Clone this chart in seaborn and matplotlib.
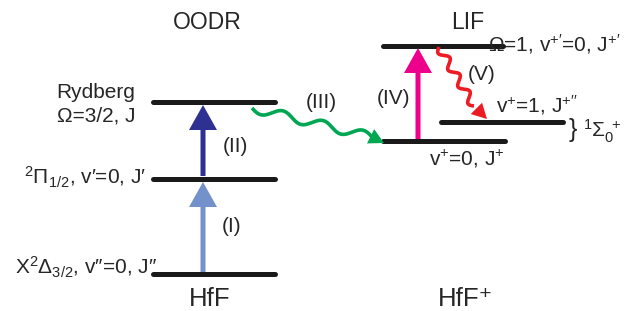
import numpy as np
import pandas as pd
import matplotlib
matplotlib.use("Agg")
import matplotlib.pyplot as plt
import seaborn as sns
from matplotlib.patches import Polygon

sns.set_theme(style="white")
plt.rcParams['font.family'] = ['Liberation Sans', 'DejaVu Sans']
plt.rcParams['mathtext.fontset'] = 'custom'
plt.rcParams['mathtext.rm'] = 'Liberation Sans'
plt.rcParams['mathtext.it'] = 'Liberation Sans'

# ---- data (diagram units: pixel-like positions of levels) ----
level_names = ["X", "Pi", "Rydberg", "v+0", "v+1", "Omega1"]
level_x0 = [153, 153, 153, 383, 441, 383]
level_x1 = [275, 275, 275, 505, 563, 503]
level_y = [274, 179, 102, 141, 122, 46]

level_labels = [
    r"X$^2\Delta_{3/2}$, v″=0, J″",
    r"$^2\Pi_{1/2}$, v′=0, J′",
    "Rydberg\nΩ=3/2, J",
    r"v$^{+}$=0, J$^{+}$",
    r"v$^{+}$=1, J$^{+\prime\prime}$",
    r"Ω=1, v$^{+\prime}$=0, J$^{+\prime}$",
]

step_labels = ["(I)", "(II)", "(III)", "(IV)", "(V)"]
section_titles = ["OODR", "LIF"]
molecule_names = ["HfF", "HfF⁺"]

fig = plt.figure(figsize=(6.35, 3.11), dpi=100)
ax = fig.add_axes([0, 0, 1, 1])

# levels via seaborn
df = pd.DataFrame({
    "x": level_x0 + level_x1,
    "y": level_y + level_y,
    "name": level_names + level_names,
})
sns.lineplot(data=df, x="x", y="y", units="name", estimator=None,
             color="#1a1a1a", lw=3.6, ax=ax, legend=False, sort=False)
ax.set_xlim(0, 635)
ax.set_ylim(311, 0)
ax.set_xlabel("")
ax.set_ylabel("")
ax.axis("off")

lv = dict(zip(level_names, level_y))

# vertical straight arrows
def varrow(x, y0, y1, color):
    ax.arrow(x, y0, 0, y1 - y0, width=5, head_width=28, head_length=25,
             length_includes_head=True, color=color, lw=0, zorder=3)

varrow(203, lv["X"] - 2, lv["Pi"] + 3, "#7391cb")
varrow(203, lv["Pi"] - 3, lv["Rydberg"] + 3, "#2e3192")
varrow(418, lv["v+0"] - 2, lv["Omega1"] + 2, "#ec008c")

# wavy arrows
def wavy(p0, p1, tip, n, amp, color, lw, hw, hl):
    p0 = np.array(p0, float); p1 = np.array(p1, float); tip = np.array(tip, float)
    t = np.linspace(0, 1, 400)
    d = p1 - p0
    L = np.hypot(*d)
    u = d / L
    nrm = np.array([-u[1], u[0]])
    pts = p0[None, :] + t[:, None] * d[None, :] + (amp * np.sin(2 * np.pi * n * t))[:, None] * nrm[None, :]
    ax.plot(pts[:, 0], pts[:, 1], color=color, lw=lw, solid_capstyle="butt", zorder=3)
    dv = tip - p1
    du = dv / np.hypot(*dv)
    dn = np.array([-du[1], du[0]])
    base = tip - du * hl
    tri = np.array([tip, base + dn * hw / 2, base - dn * hw / 2])
    ax.add_patch(Polygon(tri, closed=True, color=color, lw=0, zorder=3))

wavy((252, 108), (372, 137), (384, 143), 3.0, 4.5, "#00a651", 2.6, 16, 15)
wavy((439, 47), (474, 106), (487, 119), 3.5, 4.0, "#ed1c24", 2.6, 16, 15)

# level labels
fs = 15
ax.text(96, 98, "Rydberg", ha="center", va="baseline", fontsize=fs)
ax.text(96, 122, "Ω=3/2, J", ha="center", va="baseline", fontsize=fs)
ax.text(146, 185, level_labels[1], ha="right", va="baseline", fontsize=fs)
ax.text(157, 275, level_labels[0], ha="right", va="baseline", fontsize=fs)
ax.text(429, 166, level_labels[3], ha="left", va="baseline", fontsize=fs)
ax.text(496, 112, level_labels[4], ha="left", va="baseline", fontsize=fs)
ax.text(488, 51, level_labels[5], ha="left", va="baseline", fontsize=fs)
ax.text(569, 137, "}", ha="left", va="baseline", fontsize=18)
ax.text(583, 137, r"$^1\Sigma_0^{\ +}$", ha="left", va="baseline", fontsize=fs)

# step labels
for lab, (x, y) in zip(step_labels, [(232, 227), (235, 147), (321, 102), (394, 98), (482, 75)]):
    ax.text(x, y, lab, ha="center", va="center", fontsize=fs)

# titles
ax.text(207, 29, section_titles[0], ha="center", va="baseline", fontsize=16.5)
ax.text(468, 29, section_titles[1], ha="center", va="baseline", fontsize=16.5)
ax.text(210, 306, molecule_names[0], ha="center", va="baseline", fontsize=18.5)
ax.text(466, 306, molecule_names[1], ha="center", va="baseline", fontsize=18.5)

fig.savefig("out.png", dpi=100, facecolor="white")
